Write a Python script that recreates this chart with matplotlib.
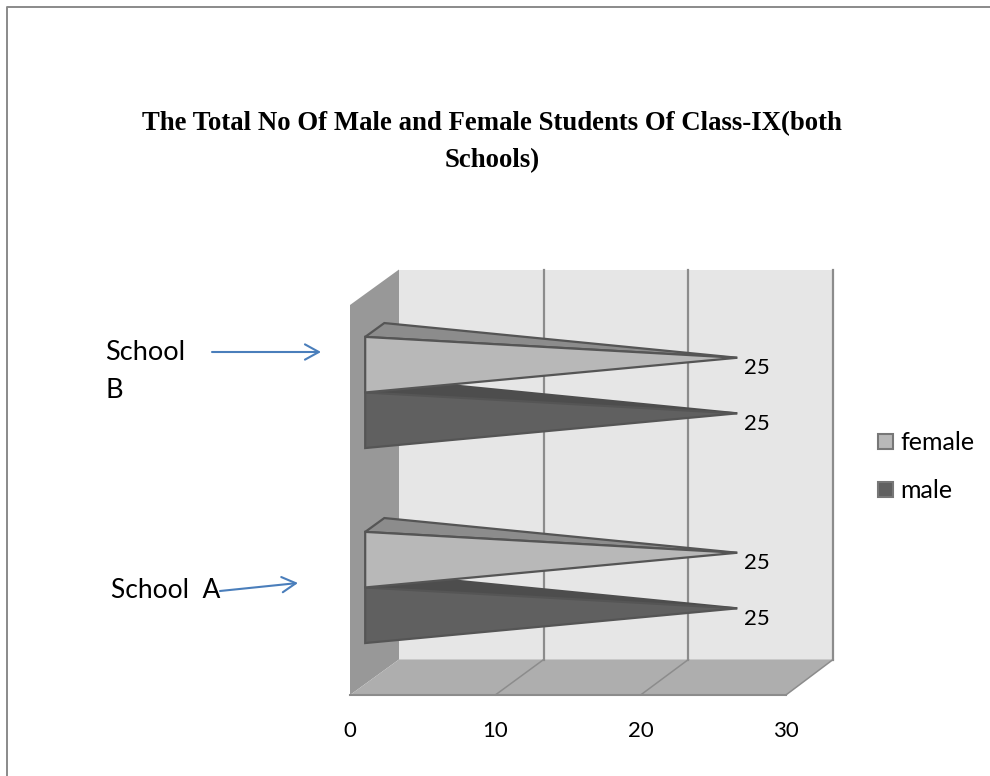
import matplotlib
matplotlib.use('Agg')
import matplotlib.pyplot as plt
from matplotlib.patches import Polygon, Rectangle

# Chart data
schools = ['School  A', 'School\nB']
series_names = ['male', 'female']
male = [25, 25]
female = [25, 25]
x_ticks = [0, 10, 20, 30]
title = 'The Total No Of Male and Female Students Of Class-IX(both\nSchools)'

LABEL_FONT = 'Lato'
FACE = {'female': '#b8b8b8', 'male': '#606060'}
TOP = {'female': '#8c8c8c', 'male': '#4d4d4d'}
EDGE = '#555555'


def project(value, cat, depth):
    # oblique projection of (value, category, depth) onto the figure
    px = 350 + (14.53 - 0.06 * depth) * value + 49 * depth
    py = 695 - 195 * cat - 35.5 * depth
    return px, py


def cone(ax, value, cat_low, cat_high, name):
    d0, d1 = 0.31, 0.70
    tip = project(value, (cat_low + cat_high) / 2, (d0 + d1) / 2)
    front_top = project(0, cat_high, d0)
    front_bottom = project(0, cat_low, d0)
    back_top = project(0, cat_high, d1)
    ax.add_patch(Polygon([front_top, back_top, tip], fc=TOP[name], ec=EDGE if name == 'female' else TOP[name],
                         lw=1.6, joinstyle='miter', zorder=3))
    ax.add_patch(Polygon([front_top, front_bottom, tip], fc=FACE[name], ec=EDGE, lw=1.6, joinstyle='miter', zorder=3))


fig = plt.figure(figsize=(9.9, 7.76), dpi=100)
ax = fig.add_axes([0, 0, 1, 1])
ax.set_xlim(0, 990)
ax.set_ylim(776, 0)
ax.axis('off')

# page border, left and top only
ax.plot([7, 7, 990], [776, 7, 7], color='#8a8a8a', lw=1.4)

# walls and floor of the 3d box
x_max = x_ticks[-1]
ax.add_patch(Polygon([project(0, 0, 1), project(x_max, 0, 1), project(x_max, 2, 1), project(0, 2, 1)], fc='#e6e6e6', ec='none'))
ax.add_patch(Polygon([project(0, 0, 0), project(0, 0, 1), project(0, 2, 1), project(0, 2, 0)], fc='#989898', ec='none'))
ax.add_patch(Polygon([project(0, 0, 0), project(x_max, 0, 0), project(x_max, 0, 1), project(0, 0, 1)], fc='#aeaeae', ec='none'))

# gridlines run across the floor and up the back wall
for t in x_ticks[1:]:
    back = [project(t, 0, 1), project(t, 2, 1)]
    ax.plot(*zip(*back), color='#8c8c8c', lw=1.6)
    ax.plot(*zip(project(t, 0, 0), project(t, 0, 1)), color='#8c8c8c', lw=1.1)
ax.plot(*zip(project(0, 0, 0), project(x_max, 0, 0)), color='#8c8c8c', lw=1.5)

# cones, male first so that female overlaps it
half = 0.285
for i in range(len(schools)):
    mid = i + 0.495
    cone(ax, male[i], mid - half, mid, 'male')
    cone(ax, female[i], mid, mid + half, 'female')
    for val, low, high in [(male[i], mid - half, mid), (female[i], mid, mid + half)]:
        tx, ty = project(val, (low + high) / 2, 0.52)
        ax.text(tx + 6, ty + 11, str(val), family=LABEL_FONT, fontsize=16, color='black', ha='left', va='center', zorder=4)

# value axis labels
for t in x_ticks:
    ax.text(project(t, 0, 0)[0], 731, str(t), family=LABEL_FONT, fontsize=16, color='black', ha='center', va='center')

ax.text(492, 142, title, family='Liberation Serif', fontweight='bold', fontsize=19.3, color='black',
        ha='center', va='center', linespacing=1.62)

# legend
for name, ly in zip(['female', 'male'], [441, 489]):
    ax.add_patch(Rectangle((878, ly - 7), 15, 15, fc=FACE[name], ec='#777777', lw=1.5))
    ax.text(900, ly + 1, name, family=LABEL_FONT, fontsize=18, color='black', ha='left', va='center')

# hand-drawn school callouts
ax.text(105, 353, 'School', family=LABEL_FONT, fontsize=19.5, color='black', ha='left', va='center')
ax.text(105, 390, 'B', family=LABEL_FONT, fontsize=19.5, color='black', ha='left', va='center')
ax.text(111, 591, 'School  A', family=LABEL_FONT, fontsize=19, color='black', ha='left', va='center')
arrow = dict(arrowstyle='->,head_length=1.0,head_width=0.55', color='#4a7ebb', lw=1.5, shrinkA=0, shrinkB=0)
ax.annotate('', xy=(321, 352), xytext=(212, 352), arrowprops=arrow)
ax.annotate('', xy=(298, 583), xytext=(220, 591), arrowprops=arrow)

fig.savefig('out.png', dpi=100)
